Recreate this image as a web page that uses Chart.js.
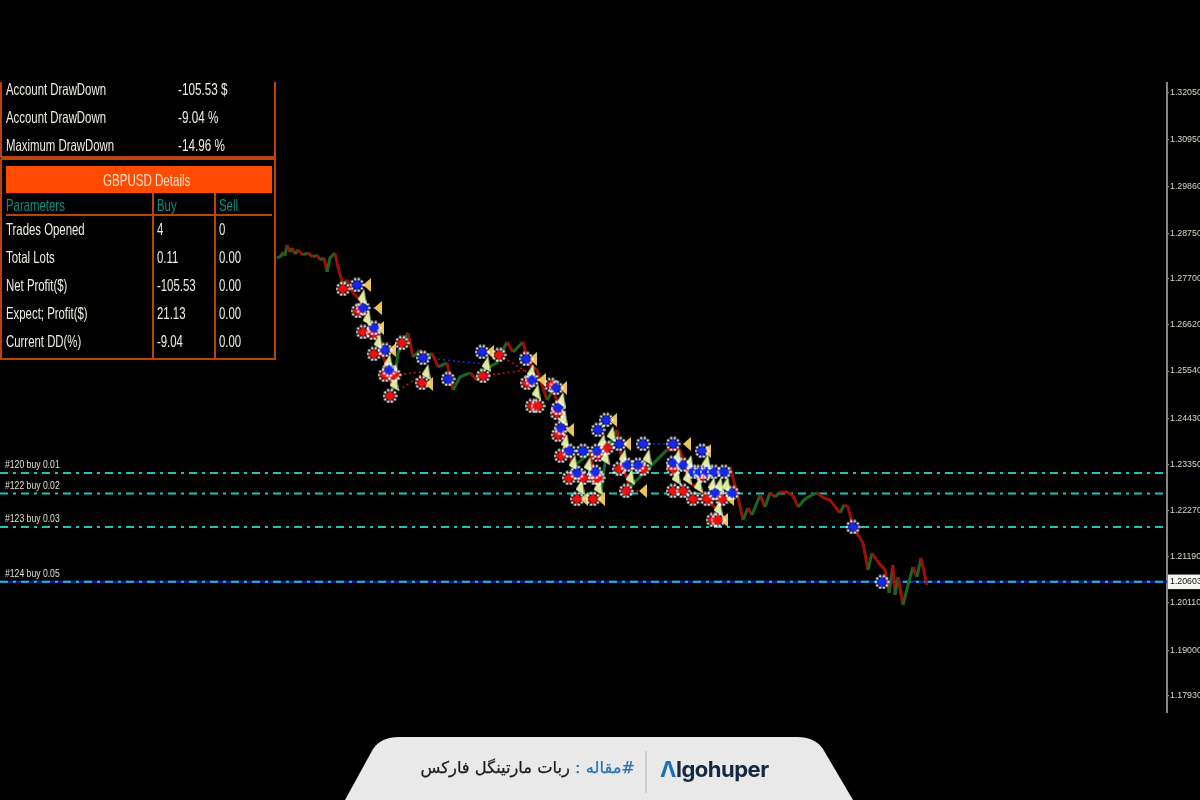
<!DOCTYPE html>
<html>
<head>
<meta charset="utf-8">
<title>GBPUSD</title>
<script src="https://cdn.jsdelivr.net/npm/chart.js@4/dist/chart.umd.min.js"></script>
<style>
    html, body { margin: 0; padding: 0; background: #000; }
    #wrap { position: relative; width: 1200px; height: 800px; overflow: hidden; }
    #priceChart { position: absolute; left: 0; top: 0; filter: blur(0.7px); }
    #banner { position: absolute; left: 0; top: 0; }
    .bannerText { position: absolute; white-space: nowrap; }
    #title { right: 565px; top: 758px; direction: rtl; font: 16.3px "DejaVu Sans", sans-serif; color: #1b1b1b; letter-spacing: -0.4px; -webkit-text-stroke: 0.25px #1b1b1b; }
    #title span { color: #2f70b5; -webkit-text-stroke: 0.25px #2f70b5; }
    #logo { left: 660px; top: 756px; font: bold 22px Inter, Roboto, sans-serif; color: #14293f; letter-spacing: -0.5px; }
    #logo span { color: #1f6fb5; }
</style>
</head>
<body>
<div id="wrap">
    <canvas id="priceChart" width="1200" height="800"></canvas>
    <svg id="banner" width="1200" height="800">
        <path d="M345 800 L373 749 Q381 737 399 737 L797 737 Q815 737 823 749 L853 800 Z" fill="#e9e9e9"></path>
        <line x1="646" y1="751" x2="646" y2="793" stroke="#b5b5b5"></line>
    </svg>
    <div class="bannerText" id="title"><span>#مقاله :</span> ربات مارتینگل فارکس</div>
    <div class="bannerText" id="logo"><span>Λ</span>lgohuper</div>
</div>
<script>
const tickPrices = [1.3205, 1.3095, 1.2986, 1.2875, 1.277, 1.2662, 1.2554, 1.2443, 1.2335, 1.2227, 1.2119, 1.20603, 1.2011, 1.19, 1.1793];
const currentPrice = 1.20603;

const pathBars = [138.5, 140.5, 141.5, 142.5, 143.5, 145, 146, 147.5, 149, 151.5, 154, 156.5, 158.5, 160, 162, 163.5, 165, 167.5, 169, 171.5, 173.5, 176.5, 180, 183.5, 186.5, 190, 194, 196.5, 199, 204, 206.5, 210, 213.5, 216, 219, 223.5, 226.5, 230, 235, 238.5, 241.5, 248.5, 253.5, 256.5, 261.5, 264, 268.5, 273.5, 276.5, 281.5, 281.5, 286.5, 295, 300, 303.5, 308.5, 311.5, 315, 325, 333.5, 340, 345, 350, 358.5, 365, 368.5, 371.5, 374, 376, 380, 382.5, 385, 387.5, 390, 393.5, 396.5, 399, 402, 405, 408.5, 412, 415, 420, 422, 424, 426.5, 431.5, 434, 436, 439, 442.5, 444.5, 446.5, 447.5, 449, 451.5, 454, 456.5, 458.5, 460.5, 463.5];
const pathPrices = [1.28187, 1.2823, 1.28327, 1.28234, 1.28491, 1.28327, 1.28421, 1.2828, 1.28374, 1.28257, 1.28304, 1.2821, 1.28257, 1.2814, 1.28187, 1.27859, 1.28187, 1.28304, 1.27976, 1.27555, 1.27672, 1.27367, 1.27203, 1.26735, 1.26431, 1.26103, 1.25565, 1.25097, 1.25963, 1.26431, 1.25869, 1.26033, 1.25799, 1.25963, 1.25635, 1.25729, 1.25097, 1.25401, 1.25495, 1.25331, 1.25565, 1.25729, 1.2622, 1.25986, 1.2622, 1.25729, 1.25565, 1.24862, 1.25097, 1.24464, 1.2416, 1.23294, 1.23622, 1.2259, 1.23692, 1.2416, 1.23294, 1.22824, 1.23294, 1.23692, 1.23692, 1.22918, 1.22754, 1.22286, 1.23294, 1.22684, 1.22052, 1.22333, 1.22169, 1.22637, 1.22356, 1.22684, 1.2259, 1.22707, 1.22707, 1.22614, 1.22356, 1.2252, 1.22614, 1.22684, 1.22567, 1.2252, 1.22216, 1.22403, 1.22356, 1.21888, 1.21514, 1.2088, 1.21278, 1.21068, 1.2088, 1.20342, 1.20997, 1.20295, 1.20716, 1.20061, 1.20529, 1.20951, 1.20716, 1.21161, 1.20529];

const redBars = [171.5, 179, 181.5, 186.5, 187, 192.5, 197, 195, 201, 211, 241.5, 249.5, 263.5, 275.5, 266, 269, 278.5, 279, 280.5, 284.5, 288.5, 297.5, 296.5, 299, 303.5, 309.5, 321.5, 313, 336.5, 336.5, 341.5, 346.5, 351.5, 353.5, 361, 356.5, 359, 291.5, 299];
const redPrices = [1.27462, 1.26946, 1.26454, 1.26431, 1.25939, 1.25448, 1.25448, 1.24956, 1.26197, 1.25261, 1.25424, 1.25916, 1.25261, 1.25214, 1.24721, 1.24721, 1.24558, 1.24043, 1.23552, 1.23037, 1.22544, 1.23037, 1.22544, 1.23575, 1.23739, 1.23247, 1.23247, 1.22731, 1.23247, 1.22731, 1.22731, 1.22544, 1.23084, 1.22544, 1.22544, 1.22052, 1.22052, 1.23037, 1.23037];

const blueBars = [178.5, 181.5, 187, 192.5, 194.5, 211.5, 224, 241, 263, 266, 278, 279, 280.5, 284.5, 291.5, 299, 303, 298.5, 288.5, 297.5, 309.5, 313.5, 319, 321.5, 336.5, 336.5, 341.5, 346.5, 350, 353.5, 357, 362, 351, 357.5, 366, 426.5, 441];
const bluePrices = [1.27555, 1.27016, 1.26548, 1.26033, 1.25565, 1.25846, 1.25354, 1.25986, 1.25823, 1.25331, 1.25144, 1.24675, 1.24206, 1.23669, 1.23669, 1.2416, 1.24394, 1.23669, 1.23154, 1.23177, 1.23833, 1.23341, 1.23341, 1.23833, 1.23833, 1.23388, 1.23341, 1.23177, 1.23177, 1.23177, 1.23177, 1.23177, 1.23669, 1.22684, 1.22684, 1.21888, 1.206];

const goldBars = [183.5, 189, 190, 196, 214.5, 245, 266.5, 271, 281.5, 285, 306.5, 313.5, 343.5, 353.5, 292, 300.5, 321.5, 365, 362];
const goldPrices = [1.27555, 1.27016, 1.26548, 1.26033, 1.25237, 1.25986, 1.25823, 1.25331, 1.25144, 1.2416, 1.24394, 1.23833, 1.23833, 1.23669, 1.22544, 1.22544, 1.22731, 1.22544, 1.22052];

const paleBars = [181, 183.5, 189, 194, 197, 197, 213, 243, 265.5, 268, 280.5, 281.5, 282.5, 286.5, 294, 301, 305.5, 302.5, 311.5, 323.5, 315, 290, 299, 338.5, 353, 338, 343.5, 344.5, 349, 356, 359.5, 363, 359];
const palePrices = [1.27273, 1.26782, 1.2622, 1.25752, 1.25261, 1.25518, 1.25518, 1.25705, 1.25518, 1.2505, 1.24862, 1.2444, 1.2388, 1.23388, 1.23341, 1.2388, 1.24067, 1.23529, 1.23529, 1.23529, 1.2306, 1.22824, 1.22824, 1.23529, 1.23411, 1.2306, 1.2306, 1.23388, 1.22871, 1.22871, 1.22871, 1.22871, 1.22333];

const blueLinkBars = [178.5, 183.5, null, 181.5, 189, null, 211.5, 243, null, 321.5, 336.5, null, 313.5, 319, null, 284.5, 291.5];
const blueLinkPrices = [1.27555, 1.27555, null, 1.27016, 1.27016, null, 1.25846, 1.25705, null, 1.23833, 1.23833, null, 1.23341, 1.23341, null, 1.23669, 1.23669];
const redLinkBars = [197, 211, null, 195, 211, null, 241.5, 263.5, null, 249.5, 263.5, null, 313, 321.5, null, 346.5, 361, null, 284.5, 299, null, 309.5, 321.5, null, 336.5, 341.5];
const redLinkPrices = [1.25448, 1.25518, null, 1.24956, 1.25448, null, 1.25424, 1.25565, null, 1.25916, 1.25518, null, 1.22731, 1.22731, null, 1.22544, 1.22544, null, 1.23037, 1.23037, null, 1.23247, 1.23247, null, 1.22731, 1.22731];

const orderLabels = ['#120 buy 0.01', '#122 buy 0.02', '#123 buy 0.03', '#124 buy 0.05'];
const orderPrices = [1.23152, 1.22672, 1.21888, 1.20603];

const accountLabels = ['Account DrawDown', 'Account DrawDown', 'Maximum DrawDown'];
const accountValues = ['-105.53 $', '-9.04 %', '-14.96 %'];
const detailLabels = ['Trades Opened', 'Total Lots', 'Net Profit($)', 'Expect; Profit($)', 'Current DD(%)'];
const detailBuy = ['4', '0.11', '-105.53', '21.13', '-9.04'];
const detailSell = ['0', '0.00', '0.00', '0.00', '0.00'];

function toPoints(xs, ys) {
    return xs.map((x, i) => ({ x: x, y: ys[i] }));
}

// little pictures for the trade marks, the terminal draws them as bitmaps
function dotSprite(color) {
    const c = document.createElement('canvas');
    c.width = 15;
    c.height = 15;
    const g = c.getContext('2d');
    g.fillStyle = '#ffffff';
    for (let a = 0; a < 10; a++) {
        g.beginPath();
        g.arc(7.5 + 6 * Math.cos(a * Math.PI / 5), 7.5 + 6 * Math.sin(a * Math.PI / 5), 1.2, 0, Math.PI * 2);
        g.fill();
    }
    g.fillStyle = color;
    g.beginPath();
    g.moveTo(7.5, 2);
    g.lineTo(13, 7.5);
    g.lineTo(7.5, 13);
    g.lineTo(2, 7.5);
    g.closePath();
    g.fill();
    return c;
}

function triangleSprite(color, w, h, up) {
    const c = document.createElement('canvas');
    c.width = w;
    c.height = h;
    const g = c.getContext('2d');
    g.fillStyle = color;
    g.beginPath();
    if (up) {
        g.moveTo(w * 0.75, 0);
        g.lineTo(w, h);
        g.lineTo(0, h * 0.65);
    } else {
        g.moveTo(0, h / 2);
        g.lineTo(w, 0);
        g.lineTo(w, h);
    }
    g.closePath();
    g.fill();
    return c;
}

function markDataset(xs, ys, sprite, order) {
    return {
        data: toPoints(xs, ys),
        pointStyle: sprite,
        pointRadius: 7,
        order: order
    };
}

function linkDataset(xs, ys, color) {
    return {
        data: toPoints(xs, ys),
        showLine: true,
        borderColor: color,
        borderWidth: 1.5,
        borderDash: [2, 3],
        pointRadius: 0,
        spanGaps: false,
        order: 6
    };
}

function levelDataset(price, color, dash, order) {
    return {
        data: [{ x: 0, y: price }, { x: 583.5, y: price }],
        showLine: true,
        borderColor: color,
        borderWidth: 2,
        borderDash: dash,
        pointRadius: 0,
        order: order
    };
}

// terminal font is a narrow one, squeeze the text to the same width
function narrowText(g, text, x, y, squeeze) {
    g.save();
    g.translate(x, y);
    g.scale(squeeze, 1);
    g.fillText(text, 0, 0);
    g.restore();
}

const panelPlugin = {
    id: 'panelPlugin',
    afterDraw(chart) {
        const g = chart.ctx;
        const edge = '#b8430f';
        g.save();
        g.strokeStyle = edge;
        g.lineWidth = 2;
        g.beginPath();
        g.moveTo(1, 82); g.lineTo(1, 157); g.lineTo(275, 157); g.lineTo(275, 82);
        g.moveTo(1, 159); g.lineTo(1, 359); g.lineTo(275, 359); g.lineTo(275, 159); g.lineTo(1, 159);
        g.moveTo(6, 215); g.lineTo(272, 215);
        g.moveTo(153, 193); g.lineTo(153, 359);
        g.moveTo(215, 193); g.lineTo(215, 359);
        g.stroke();
        g.fillStyle = '#ff4a00';
        g.fillRect(6, 166, 266, 27);

        g.textBaseline = 'middle';
        g.font = '16.5px "Liberation Sans", sans-serif';
        g.fillStyle = '#f0ede4';
        accountLabels.forEach((t, i) => {
            narrowText(g, t, 6, 90 + i * 28, 0.69);
            narrowText(g, accountValues[i], 178, 90 + i * 28, 0.71);
        });
        detailLabels.forEach((t, i) => {
            narrowText(g, t, 6, 230 + i * 28, 0.69);
            narrowText(g, detailBuy[i], 157, 230 + i * 28, 0.69);
            narrowText(g, detailSell[i], 219, 230 + i * 28, 0.69);
        });
        g.fillStyle = '#0b8d86';
        narrowText(g, 'Parameters', 6, 206, 0.69);
        narrowText(g, 'Buy', 157, 206, 0.69);
        narrowText(g, 'Sell', 219, 206, 0.69);
        g.fillStyle = '#ffe2cc';
        narrowText(g, 'GBPUSD Details', 103, 181, 0.7);

        g.font = '11.5px "Liberation Sans", sans-serif';
        g.fillStyle = '#e4e0d4';
        const yAxis = chart.scales.y;
        orderLabels.forEach((t, i) => {
            narrowText(g, t, 5, yAxis.getPixelForValue(orderPrices[i]) - 8, 0.75);
        });
        g.restore();
    }
};

new Chart(document.getElementById('priceChart'), {
    type: 'scatter',
    plugins: [panelPlugin],
    data: {
        datasets: [
            {
                data: toPoints(pathBars, pathPrices),
                showLine: true,
                borderWidth: 3,
                pointRadius: 0,
                borderColor: '#9c1006',
                segment: {
                    borderColor: (c) => c.p1.parsed.y > c.p0.parsed.y ? '#1b6523' : '#9c1006'
                },
                order: 5
            },
            levelDataset(currentPrice, '#0a1fc0', [], 9),
            levelDataset(orderPrices[0], '#1fc4b6', [8, 5, 3, 5], 8),
            levelDataset(orderPrices[1], '#1fc4b6', [8, 5, 3, 5], 8),
            levelDataset(orderPrices[2], '#1fc4b6', [8, 5, 3, 5], 8),
            levelDataset(orderPrices[3], '#1fc4b6', [8, 5, 3, 5], 8),
            linkDataset(blueLinkBars, blueLinkPrices, '#1030e0'),
            linkDataset(redLinkBars, redLinkPrices, '#e01010'),
            markDataset(paleBars, palePrices, triangleSprite('#dcebA0', 9, 16, true), 4),
            markDataset(goldBars, goldPrices, triangleSprite('#eac457', 8, 14, false), 3),
            markDataset(redBars, redPrices, dotSprite('#ee1010'), 2),
            markDataset(blueBars, bluePrices, dotSprite('#1528f0'), 1)
        ]
    },
    options: {
        responsive: false,
        animation: false,
        layout: { autoPadding: false, padding: { top: 83, bottom: 88, left: 0, right: 0 } },
        plugins: {
            legend: { display: false },
            tooltip: { enabled: false }
        },
        scales: {
            x: {
                type: 'linear',
                min: 0,
                max: 583.5,
                display: false
            },
            y: {
                type: 'linear',
                position: 'right',
                min: 1.17555,
                max: 1.32284,
                afterFit(scale) {
                    scale.width = 33;
                },
                afterBuildTicks(scale) {
                    scale.ticks = tickPrices.map((v) => ({ value: v }));
                },
                border: { display: true, color: '#858585', width: 2 },
                grid: { drawOnChartArea: false, color: '#a0a0a0', tickLength: 2 },
                ticks: {
                    autoSkip: false,
                    padding: 1,
                    font: { family: '"Liberation Sans", sans-serif', size: 8.8 },
                    color: (c) => c.tick.value === currentPrice ? '#111' : '#d8d6c8',
                    showLabelBackdrop: (c) => c.tick.value === currentPrice,
                    backdropColor: '#f4f4f0',
                    backdropPadding: { x: 2, y: 2 },
                    callback: (v) => v.toFixed(5)
                }
            }
        }
    }
});
</script>
</body>
</html>
